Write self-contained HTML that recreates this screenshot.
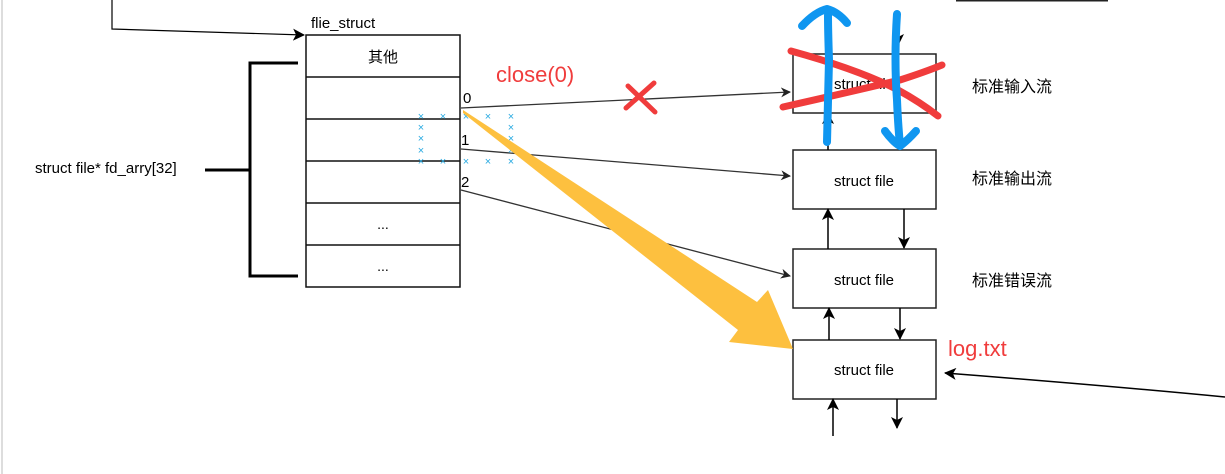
<!DOCTYPE html>
<html><head><meta charset="utf-8"><style>
html,body{margin:0;padding:0;background:#fff;}
svg{display:block;}
text{font-family:"Liberation Sans","Noto Sans CJK SC",sans-serif;}
</style></head><body>
<svg width="1225" height="474" viewBox="0 0 1225 474" xmlns="http://www.w3.org/2000/svg">
<defs>
<marker id="a" markerWidth="10" markerHeight="10" refX="9" refY="5" orient="auto" markerUnits="userSpaceOnUse"><path d="M0,0 L10,5 L0,10 L3,5 z" fill="#222"/></marker>
<marker id="b" markerWidth="12" markerHeight="12" refX="11" refY="6" orient="auto" markerUnits="userSpaceOnUse"><path d="M0,0 L12,6 L0,12 L3,6 z" fill="#000"/></marker>
</defs>
<line x1="2" y1="0" x2="2" y2="474" stroke="#ddd" stroke-width="2"/>
<line x1="956" y1="0.5" x2="1108" y2="0.5" stroke="#222" stroke-width="2"/>
<!-- top-left line -->
<polyline points="112,0 112,29 304,35" fill="none" stroke="#000" stroke-width="1.2" marker-end="url(#b)"/>
<text x="311" y="28" font-size="15">flie_struct</text>
<!-- table -->
<g stroke="#111" stroke-width="1.5" fill="none">
<rect x="306" y="35" width="154" height="252"/>
<line x1="306" y1="77" x2="460" y2="77"/><line x1="306" y1="119" x2="460" y2="119"/>
<line x1="306" y1="161" x2="460" y2="161"/><line x1="306" y1="203" x2="460" y2="203"/>
<line x1="306" y1="245" x2="460" y2="245"/>
</g>
<text x="383" y="62" font-size="15" text-anchor="middle">其他</text>
<text x="383" y="229" font-size="14" text-anchor="middle">...</text>
<text x="383" y="271" font-size="14" text-anchor="middle">...</text>
<!-- bracket -->
<polyline points="298,63 250,63 250,276 298,276" fill="none" stroke="#000" stroke-width="3"/>
<line x1="205" y1="170" x2="250" y2="170" stroke="#000" stroke-width="3"/>
<text x="35" y="173" font-size="15">struct file* fd_arry[32]</text>
<!-- fd numbers -->
<text x="463" y="103" font-size="15">0</text>
<text x="461" y="145" font-size="15">1</text>
<text x="461" y="187" font-size="15">2</text>
<!-- connectors -->
<g stroke="#333" stroke-width="1.3" fill="none">
<line x1="461" y1="108" x2="790" y2="92" marker-end="url(#a)"/>
<line x1="461" y1="149" x2="790" y2="176" marker-end="url(#a)"/>
<line x1="461" y1="190" x2="790" y2="276" marker-end="url(#a)"/>
</g>
<!-- boxes -->
<g stroke="#222" stroke-width="1.5" fill="#fff">
<rect x="793" y="54" width="143" height="59"/>
<rect x="793" y="150" width="143" height="59"/>
<rect x="793" y="249" width="143" height="59"/>
<rect x="793" y="340" width="143" height="59"/>
</g>
<g font-size="15" text-anchor="middle">
<text x="864" y="89">struct file</text>
<text x="864" y="186">struct file</text>
<text x="864" y="285">struct file</text>
<text x="864" y="375">struct file</text>
</g>
<g font-size="16">
<text x="972" y="92">标准输入流</text>
<text x="972" y="184">标准输出流</text>
<text x="972" y="286">标准错误流</text>
</g>
<text x="948" y="356" font-size="22" fill="#f03c3c">log.txt</text>
<text x="496" y="82" font-size="22" fill="#f03c3c">close(0)</text>
<!-- vertical arrows -->
<g stroke="#000" stroke-width="1.5">
<line x1="828" y1="249" x2="828" y2="209" marker-end="url(#b)"/>
<line x1="904" y1="209" x2="904" y2="248" marker-end="url(#b)"/>
<line x1="829" y1="340" x2="829" y2="308" marker-end="url(#b)"/>
<line x1="900" y1="308" x2="900" y2="339" marker-end="url(#b)"/>
<line x1="833" y1="436" x2="833" y2="399" marker-end="url(#b)"/>
<line x1="897" y1="399" x2="897" y2="428" marker-end="url(#b)"/>
<line x1="828" y1="150" x2="828" y2="113" marker-end="url(#b)"/>
<line x1="898" y1="20" x2="898" y2="45" marker-end="url(#b)"/>
</g>
<path d="M1225,397 Q1100,385 945,373" fill="none" stroke="#000" stroke-width="1.5" marker-end="url(#b)"/>
<!-- blue x markers -->
<g fill="#29aae1" font-size="11" text-anchor="middle">
<text x="421" y="120">×</text><text x="443" y="120">×</text><text x="466" y="120">×</text><text x="488" y="120">×</text><text x="511" y="120">×</text>
<text x="421" y="131">×</text><text x="421" y="142">×</text><text x="421" y="154">×</text>
<text x="511" y="131">×</text><text x="511" y="142">×</text><text x="511" y="154">×</text>
<text x="421" y="165">×</text><text x="443" y="165">×</text><text x="466" y="165">×</text><text x="488" y="165">×</text><text x="511" y="165">×</text>
</g>
<!-- yellow arrow -->
<polygon points="463,110 757,302 768,290 793,349 729,342 738,330 463,113" fill="#fdc03f"/>
<!-- red X near close -->
<g stroke="#f03c3c" stroke-width="5" stroke-linecap="round">
<line x1="628" y1="86" x2="655" y2="112"/>
<line x1="654" y1="83" x2="626" y2="108"/>
</g>
<!-- red cross over box1 -->
<g stroke="#f03c3c" stroke-width="7" stroke-linecap="round" fill="none">
<path d="M791,51 Q860,70 898,90 Q920,102 938,116"/>
<path d="M783,107 Q850,92 900,80 Q925,72 942,65"/>
</g>
<!-- blue strokes -->
<g stroke="#0f96f0" stroke-width="8" stroke-linecap="round" stroke-linejoin="round" fill="none">
<path d="M827,142 Q828,100 829,60 Q828,30 828,15"/>
<path d="M802,26 Q815,12 827,9 Q838,12 847,23"/>
<path d="M897,14 Q894,60 897,100 Q898,125 900,145"/>
<path d="M885,131 Q893,142 900,146 Q908,140 916,131"/>
</g>
</svg>
</body></html>
